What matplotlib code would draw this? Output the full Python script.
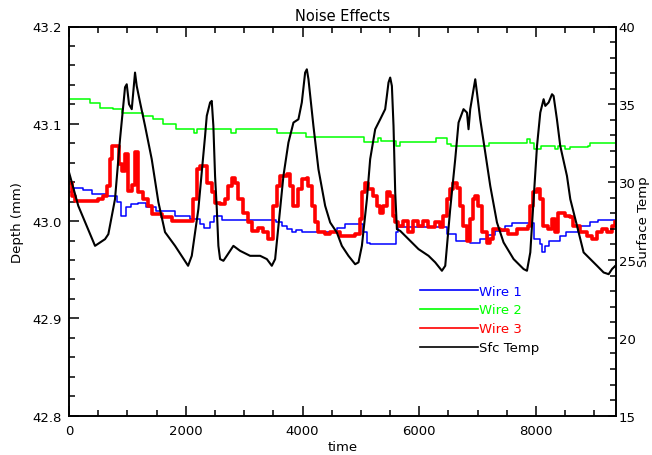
import matplotlib
matplotlib.use("Agg")
import matplotlib.pyplot as plt
from matplotlib.lines import Line2D
from matplotlib.ticker import MultipleLocator

# ---- data ----
sfc_time = [0, 159, 446, 617, 674, 788, 874, 960, 989, 1028, 1075, 1131, 1160, 1217, 1303, 1417,
            1531, 1645, 1817, 2040, 2103, 2216, 2331, 2360, 2417, 2445, 2473, 2502, 2532, 2559,
            2588, 2645, 2703, 2816, 2931, 3102, 3274, 3389, 3474, 3531, 3588, 3673, 3759, 3845,
            3930, 3988, 4045, 4074, 4102, 4187, 4273, 4388, 4474, 4588, 4674, 4787, 4902, 4959,
            5017, 5103, 5159, 5245, 5331, 5416, 5445, 5473, 5502, 5531, 5559, 5588, 5617, 5674,
            5816, 5987, 6159, 6273, 6388, 6445, 6530, 6616, 6673, 6758, 6817, 6844, 6873, 6930,
            6959, 6988, 7044, 7130, 7216, 7331, 7444, 7616, 7787, 7845, 7902, 7959, 8017, 8073,
            8130, 8159, 8216, 8274, 8301, 8358, 8415, 8530, 8587, 8702, 8815, 8930, 9045, 9158,
            9244, 9302, 9359]
sfc_temp = [30.64, 28.48, 25.91, 26.34, 26.66, 28.91, 32.76, 36.10, 36.29, 35.01, 34.69, 37.04,
            36.18, 35.13, 33.61, 31.48, 28.72, 26.79, 25.91, 24.63, 25.27, 28.27, 32.97, 34.26,
            35.12, 35.22, 33.61, 30.40, 28.27, 25.91, 25.06, 24.95, 25.27, 25.91, 25.59, 25.27,
            25.27, 25.06, 24.63, 25.06, 27.20, 30.40, 32.55, 33.83, 34.04, 35.12, 37.04, 37.25,
            36.61, 33.61, 30.83, 28.48, 27.41, 26.77, 25.91, 25.27, 24.73, 24.85, 25.91, 28.91,
            31.48, 33.40, 34.04, 34.69, 35.54, 36.40, 36.72, 36.18, 33.61, 29.34, 26.98, 26.87,
            26.34, 25.70, 25.27, 24.85, 24.31, 24.63, 28.27, 31.48, 33.83, 34.69, 34.47, 33.40,
            34.69, 35.97, 36.61, 35.76, 34.04, 31.91, 29.76, 27.41, 26.13, 25.06, 24.42, 24.31,
            25.49, 28.91, 32.33, 34.47, 35.33, 34.90, 35.12, 35.65, 35.54, 34.04, 32.33, 30.40,
            28.91, 27.20, 25.49, 25.06, 24.63, 24.20, 24.09, 24.42, 24.63]

wire1_time = [0, 86, 240, 394, 651, 823, 891, 977, 1063, 1183, 1320, 1491, 1817, 2074, 2245,
              2314, 2417, 2485, 2622, 3548, 3651, 3737, 3822, 3891, 3994, 4594, 4731, 5039,
              5108, 5159, 5605, 5639, 6479, 6547, 6633, 6873, 7045, 7182, 7302, 7473, 7593,
              7970, 8073, 8108, 8159, 8227, 8416, 8519, 8724, 8930, 9067, 9370]
wire1_depth = [43.0300, 43.0345, 43.0320, 43.0276, 43.0259, 43.0194, 43.0053, 43.0140, 43.0174,
               43.0191, 43.0140, 43.0105, 43.0053, 43.0020, 42.9968, 42.9934, 42.9986, 43.0053,
               43.0012, 42.9986, 42.9951, 42.9917, 42.9883, 42.9910, 42.9883, 42.9934, 42.9975,
               42.9883, 42.9780, 42.9763, 42.9883, 42.9942, 42.9866, 42.9866, 42.9797, 42.9780,
               42.9814, 42.9855, 42.9896, 42.9948, 42.9978, 42.9814, 42.9763, 42.9684, 42.9745,
               42.9797, 42.9848, 42.9889, 42.9951, 42.9986, 43.0009, 43.0009]

wire2_time = [0, 360, 531, 754, 908, 1268, 1440, 1611, 1834, 2142, 2194, 2777, 2862, 3565, 4062,
              5056, 5296, 5348, 5605, 5673, 6290, 6479, 6547, 7199, 7850, 7902, 7970, 8090,
              8330, 8382, 8501, 8587, 8896, 8930, 9370]
wire2_depth = [43.1251, 43.1218, 43.1166, 43.1149, 43.1115, 43.1080, 43.1046, 43.0995, 43.0943,
               43.0910, 43.0943, 43.0910, 43.0943, 43.0910, 43.0861, 43.0815, 43.0858, 43.0823,
               43.0769, 43.0815, 43.0858, 43.0790, 43.0772, 43.0807, 43.0841, 43.0807, 43.0738,
               43.0772, 43.0738, 43.0772, 43.0738, 43.0759, 43.0772, 43.0807, 43.0807]

wire3_time = [0, 51, 103, 274, 497, 583, 651, 703, 737, 823, 857, 908, 960, 1011, 1080, 1131,
              1183, 1268, 1354, 1423, 1594, 1765, 2074, 2125, 2194, 2245, 2297, 2365, 2451, 2502,
              2588, 2674, 2725, 2794, 2845, 2897, 2982, 3068, 3137, 3239, 3325, 3411, 3479, 3497,
              3565, 3617, 3737, 3788, 3839, 3925, 3994, 4079, 4097, 4165, 4216, 4268, 4388, 4474,
              4645, 4902, 4988, 5022, 5074, 5125, 5211, 5279, 5331, 5382, 5451, 5502, 5553, 5588,
              5639, 5725, 5811, 5896, 5982, 6068, 6153, 6273, 6359, 6410, 6479, 6530, 6582, 6650,
              6702, 6753, 6822, 6873, 6925, 6959, 7010, 7079, 7165, 7216, 7267, 7387, 7525, 7679,
              7867, 7902, 7953, 8022, 8073, 8124, 8210, 8279, 8330, 8382, 8501, 8587, 8639, 8759,
              8879, 8965, 9050, 9136, 9221, 9307, 9359]
wire3_depth = [43.0396, 43.0256, 43.0207, 43.0207, 43.0225, 43.0259, 43.0361, 43.0636, 43.0769,
               43.0769, 43.0584, 43.0512, 43.0687, 43.0307, 43.0369, 43.0707, 43.0297, 43.0225,
               43.0153, 43.0071, 43.0037, 43.0002, 43.0002, 43.0225, 43.0533, 43.0567, 43.0567,
               43.0396, 43.0294, 43.0191, 43.0174, 43.0225, 43.0361, 43.0448, 43.0396, 43.0225,
               43.0088, 42.9986, 42.9899, 42.9934, 42.9883, 42.9814, 42.9814, 43.0156, 43.0361,
               43.0464, 43.0481, 43.0361, 43.0156, 43.0328, 43.0430, 43.0448, 43.0361, 43.0156,
               42.9986, 42.9883, 42.9866, 42.9883, 42.9848, 42.9866, 43.0020, 43.0294, 43.0396,
               43.0328, 43.0259, 43.0156, 43.0088, 43.0156, 43.0294, 43.0259, 43.0053, 42.9986,
               42.9951, 43.0000, 42.9883, 43.0000, 42.9948, 43.0000, 42.9937, 42.9986, 42.9937,
               43.0053, 43.0225, 43.0328, 43.0396, 43.0345, 43.0156, 42.9951, 42.9797, 43.0020,
               43.0225, 43.0259, 43.0156, 42.9883, 42.9780, 42.9814, 42.9917, 42.9906, 42.9866,
               42.9917, 42.9951, 43.0156, 43.0294, 43.0328, 43.0225, 42.9951, 42.9917, 43.0020,
               42.9883, 43.0088, 43.0053, 43.0037, 42.9951, 42.9883, 42.9848, 42.9814, 42.9883,
               42.9917, 42.9883, 42.9951, 42.9986]

labels = ["Wire 1", "Wire 2", "Wire 3", "Sfc Temp"]
colors = ["#0000ff", "#00ff00", "#ff0000", "#000000"]

FS = 9.5
plt.rcParams['font.family'] = ['DejaVu Sans']

fig = plt.figure(figsize=(6.52, 4.56), dpi=100)
ax = fig.add_axes([69/652, 1 - 416.7/456, (616 - 69)/652, (416.7 - 27.5)/456])
ax2 = ax.twinx()

l1, = ax.plot(wire1_time, wire1_depth, drawstyle='steps-post', color=colors[0], lw=1.1)
l2, = ax.plot(wire2_time, wire2_depth, drawstyle='steps-post', color=colors[1], lw=1.1)
l3, = ax.plot(wire3_time, wire3_depth, drawstyle='steps-post', color=colors[2], lw=2.6)
l4, = ax2.plot(sfc_time, sfc_temp, color=colors[3], lw=1.5)

ax.set_xlim(0, 9370)
ax.set_ylim(42.8, 43.2)
ax2.set_ylim(15, 40)

ax.xaxis.set_major_locator(MultipleLocator(2000))
ax.xaxis.set_minor_locator(MultipleLocator(500))
ax.yaxis.set_major_locator(MultipleLocator(0.1))
ax.yaxis.set_minor_locator(MultipleLocator(0.02))
ax2.yaxis.set_major_locator(MultipleLocator(5))
ax2.yaxis.set_minor_locator(MultipleLocator(1))
ax.yaxis.set_major_formatter(matplotlib.ticker.FormatStrFormatter('%.1f'))

ax.tick_params(axis='x', which='both', direction='in', top=True, labelsize=FS, pad=6)
ax.tick_params(axis='y', which='both', direction='in', labelsize=FS, pad=5)
ax.tick_params(which='major', length=7, width=1.1)
ax.tick_params(which='minor', length=4, width=1.1)
ax2.tick_params(axis='y', which='both', direction='in', labelsize=FS, pad=2)
ax2.tick_params(which='major', length=6, width=1.1)
ax2.tick_params(which='minor', length=4, width=1.1)

for a in (ax, ax2):
    for s in a.spines.values():
        s.set_linewidth(1.2)

ax.set_title("Noise Effects", fontsize=10.5, pad=5)
ax.set_xlabel("time", fontsize=FS, labelpad=2)
ax.set_ylabel("Depth (mm)", fontsize=FS, labelpad=6)
ax2.set_ylabel("Surface Temp", fontsize=FS, labelpad=1)

handles = [Line2D([], [], color=c, lw=1.2) for c in colors]
leg = ax2.legend(handles, labels, loc='upper left', bbox_to_anchor=(0.642, 0.337),
                 frameon=False, fontsize=FS, handlelength=4.4, handletextpad=0.05,
                 labelspacing=0.45, borderpad=0, borderaxespad=0, labelcolor='linecolor')

fig.savefig("out.png", dpi=100)
